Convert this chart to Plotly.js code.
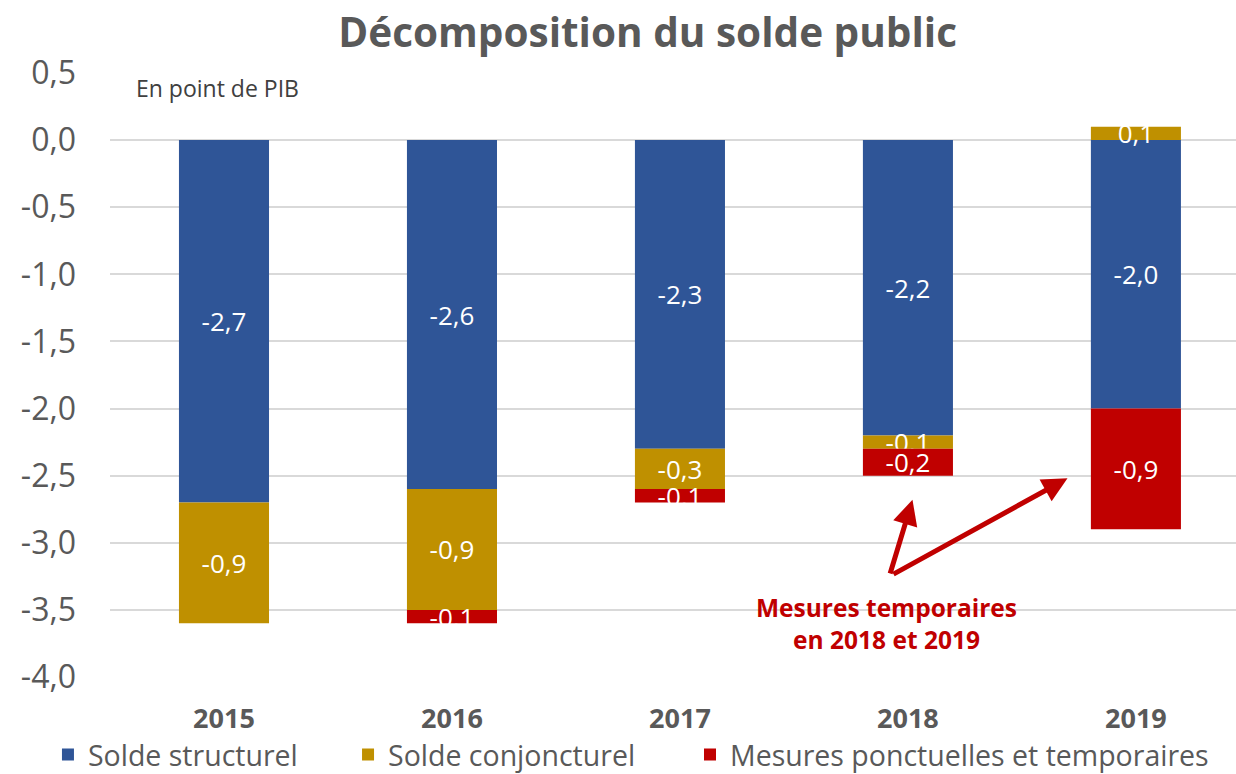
<!DOCTYPE html>
<html>
<head>
<meta charset="utf-8">
<script src="https://cdn.plot.ly/plotly-3.0.1.min.js"></script>
<style>html,body{margin:0;padding:0;background:#fff;}#chart{width:1236px;height:774px;}</style>
</head>
<body>
<div id="chart"></div>
<script>
var years = ["2015", "2016", "2017", "2018", "2019"];
var soldeStructurel = [-2.7, -2.6, -2.3, -2.2, -2.0];
var soldeConjoncturel = [-0.9, -0.9, -0.3, -0.1, 0.1];
var mesuresPonctuelles = [0.0, -0.1, -0.1, -0.2, -0.9];
var yTicks = [0.5, 0.0, -0.5, -1.0, -1.5, -2.0, -2.5, -3.0, -3.5, -4.0];

function fmt(v) { return v === 0 ? "" : v.toFixed(1).replace(".", ","); }

var FONT = "'Open Sans', sans-serif";
var GREY = "#595959";

function barTrace(name, vals, color, legendId) {
  return {
    type: "bar", name: name, x: years, y: vals, legend: legendId,
    marker: {color: color, line: {width: 0}},
    width: 0.395,
    text: vals.map(fmt), textposition: "inside", insidetextanchor: "middle",
    textangle: 0, constraintext: "none",
    insidetextfont: {family: FONT, size: 26, color: "#ffffff"},
    hoverinfo: "x+y"
  };
}

var data = [
  barTrace("Solde structurel", soldeStructurel, "#2f5597", "legend"),
  barTrace("Solde conjoncturel", soldeConjoncturel, "#bf9000", "legend2"),
  barTrace("Mesures ponctuelles et temporaires", mesuresPonctuelles, "#c00000", "legend3")
];

function legendAt(x) {
  return {
    orientation: "h", x: x, xanchor: "left",
    y: -0.1291, yanchor: "middle",
    font: {family: FONT, size: 28.5, color: GREY},
    bgcolor: "rgba(0,0,0,0)", itemclick: false
  };
}

var RED = "#c00000";
var layout = {
  width: 1236, height: 774,
  margin: {l: 110, r: 0, t: 73, b: 97, autoexpand: false},
  paper_bgcolor: "#ffffff", plot_bgcolor: "#ffffff",
  barmode: "relative",
  showlegend: true,
  separators: ", ",
  font: {family: FONT, color: GREY},
  title: {
    text: "<b>Décomposition du solde public</b>",
    font: {family: FONT, size: 40.5, color: GREY},
    xref: "container", x: 0.524, xanchor: "center",
    yref: "container", y: 0.958, yanchor: "middle"
  },
  xaxis: {
    type: "category",
    range: [-0.5, 4.439],
    showgrid: false, zeroline: false, showline: false, ticks: "",
    tickfont: {family: FONT, size: 27, color: GREY, weight: "bold"},
    ticklabelstandoff: 23
  },
  yaxis: {
    range: [-4.0, 0.5],
    tickvals: yTicks,
    ticktext: yTicks.map(function(v){ return v.toFixed(1).replace(".", ","); }),
    showgrid: true, gridcolor: "#d9d9d9", gridwidth: 2,
    zeroline: false, showline: false, ticks: "",
    tickfont: {family: FONT, size: 32, color: GREY},
    ticklabelstandoff: 33
  },
  legend: legendAt(-0.0551),
  legend2: legendAt(0.2114),
  legend3: legendAt(0.5151),
  annotations: [
    {
      text: "En point de PIB", xref: "paper", yref: "paper",
      x: 0.021, y: 0.975, xanchor: "left", yanchor: "middle",
      showarrow: false, font: {family: FONT, size: 23, color: "#404040"}
    },
    {
      text: "<b>Mesures temporaires<br>en 2018 et 2019</b>",
      xref: "x", yref: "y", x: 2.905, y: -3.6,
      showarrow: false, align: "center",
      font: {family: FONT, size: 24.5, color: RED}
    },
    {
      text: "", xref: "x", yref: "y", axref: "x", ayref: "y",
      x: 3.02, y: -2.68, ax: 2.92, ay: -3.24,
      showarrow: true, arrowhead: 2, arrowsize: 1, arrowwidth: 5, arrowcolor: RED
    },
    {
      text: "", xref: "x", yref: "y", axref: "x", ayref: "y",
      x: 3.70, y: -2.52, ax: 2.93, ay: -3.24,
      showarrow: true, arrowhead: 2, arrowsize: 1, arrowwidth: 5, arrowcolor: RED
    }
  ]
};

Plotly.newPlot("chart", data, layout, {displayModeBar: false, staticPlot: true});
</script>
</body>
</html>
